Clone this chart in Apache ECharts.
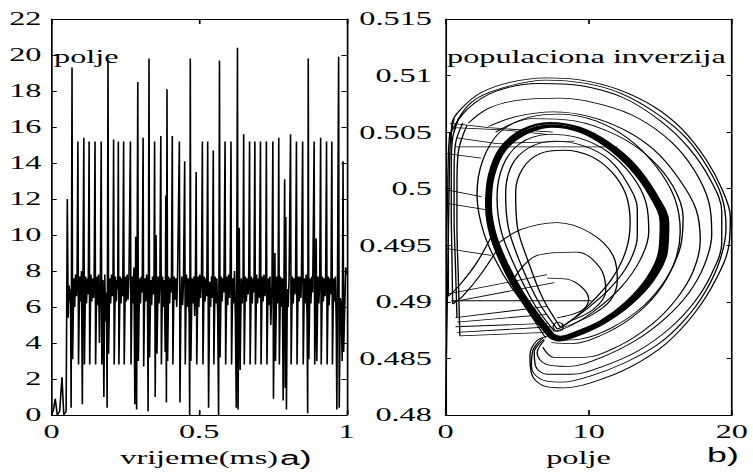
<!DOCTYPE html>
<html><head><meta charset="utf-8">
<script src="https://cdn.jsdelivr.net/npm/echarts@6/dist/echarts.min.js"></script>
<style>
html,body{margin:0;padding:0;background:#fff;overflow:hidden;width:753px;height:472px}
#chart{width:443px;height:472px;transform:scaleX(1.6998);transform-origin:0 0;}
</style></head><body><div id="chart"></div>
<script>
// ---------- panel a): field vs time ----------
const timeTicks = [0, 0.5, 1];
const fieldTicks = [0, 2, 4, 6, 8, 10, 12, 14, 16, 18, 20, 22];
const timeMs = [
0.000,0.006,0.012,0.019,0.027,0.035,0.041,0.049,0.053,0.056,0.059,0.062,0.064,0.066,0.069,0.071,0.075,0.078,0.081,0.084,
0.086,0.089,0.091,0.095,0.098,0.101,0.104,0.106,0.109,0.111,0.115,0.118,0.121,0.124,0.127,0.129,0.133,0.136,0.139,0.142,
0.144,0.147,0.149,0.153,0.156,0.159,0.162,0.165,0.168,0.170,0.174,0.177,0.180,0.183,0.186,0.188,0.191,0.193,0.197,0.200,
0.203,0.206,0.208,0.210,0.212,0.216,0.219,0.222,0.224,0.226,0.228,0.232,0.235,0.238,0.241,0.244,0.246,0.250,0.253,0.256,
0.259,0.262,0.267,0.269,0.273,0.276,0.279,0.282,0.285,0.288,0.292,0.294,0.298,0.301,0.304,0.307,0.310,0.312,0.316,0.319,
0.322,0.325,0.327,0.330,0.332,0.336,0.339,0.342,0.345,0.347,0.349,0.351,0.354,0.357,0.361,0.364,0.367,0.370,0.372,0.376,
0.379,0.382,0.385,0.387,0.389,0.391,0.393,0.397,0.400,0.403,0.406,0.409,0.411,0.415,0.418,0.421,0.424,0.427,0.433,0.435,
0.438,0.441,0.444,0.447,0.451,0.453,0.457,0.460,0.463,0.466,0.468,0.470,0.472,0.476,0.479,0.482,0.485,0.487,0.490,0.492,
0.496,0.499,0.502,0.505,0.508,0.511,0.513,0.517,0.520,0.523,0.526,0.529,0.532,0.536,0.539,0.542,0.545,0.548,0.550,0.554,
0.557,0.560,0.563,0.566,0.569,0.571,0.575,0.578,0.581,0.584,0.588,0.590,0.594,0.597,0.600,0.603,0.605,0.608,0.610,0.614,
0.617,0.620,0.623,0.626,0.630,0.632,0.636,0.639,0.643,0.646,0.649,0.651,0.653,0.657,0.660,0.663,0.666,0.668,0.671,0.673,
0.677,0.680,0.683,0.686,0.689,0.691,0.695,0.698,0.701,0.704,0.708,0.710,0.714,0.717,0.720,0.723,0.726,0.728,0.730,0.734,
0.737,0.740,0.743,0.747,0.750,0.752,0.755,0.757,0.759,0.763,0.766,0.768,0.770,0.772,0.776,0.779,0.782,0.785,0.790,0.792,
0.794,0.796,0.799,0.802,0.805,0.810,0.812,0.816,0.819,0.822,0.825,0.827,0.830,0.832,0.836,0.839,0.842,0.845,0.847,0.851,
0.853,0.857,0.860,0.863,0.866,0.868,0.870,0.872,0.876,0.879,0.882,0.885,0.890,0.892,0.895,0.897,0.899,0.903,0.906,0.909,
0.912,0.914,0.918,0.921,0.924,0.927,0.929,0.932,0.934,0.938,0.941,0.944,0.947,0.950,0.952,0.956,0.959,0.962,0.965,0.967,
0.973,0.975,0.979,0.982,0.985,0.988,0.990,0.994,0.997,1.000];
const field = [
0.0,0.3,0.9,0.0,0.2,2.1,0.0,0.2,12.0,5.4,7.2,6.3,7.0,0.4,19.3,3.1,7.6,6.0,7.8,6.6,
7.5,15.2,2.8,7.7,6.3,8.0,0.6,7.4,15.4,2.8,7.7,6.2,7.6,6.7,15.2,2.8,7.8,6.3,7.6,6.5,
7.4,15.2,2.8,7.7,6.1,7.8,4.0,7.3,15.2,2.8,7.5,1.0,7.8,5.2,6.8,0.4,19.7,3.4,7.6,6.2,
7.8,6.6,7.6,15.3,2.8,7.7,6.3,7.5,7.0,15.2,2.8,7.7,6.2,7.6,6.6,15.2,2.8,7.7,6.3,7.8,
6.4,7.6,15.2,2.8,7.7,6.2,8.2,0.6,9.9,0.3,18.5,3.0,7.6,6.2,7.7,6.8,15.4,2.7,7.6,6.3,
7.8,6.5,0.2,19.8,3.2,7.5,6.1,7.7,6.7,7.4,15.2,1.0,10.0,3.4,7.7,6.2,7.6,15.5,2.8,7.7,
6.0,7.5,3.5,12.2,0.7,18.1,3.0,7.7,6.2,7.6,6.8,15.5,2.8,7.7,6.4,7.6,6.0,7.9,15.2,0.7,
5.8,7.7,6.1,7.4,14.1,2.8,7.8,6.0,7.6,5.6,0.0,19.8,3.0,7.6,6.2,7.7,5.5,7.0,13.5,2.8,
7.7,6.0,7.8,6.5,7.6,15.2,2.8,7.7,6.3,7.6,6.6,15.2,0.4,7.4,6.0,7.7,6.5,14.7,2.8,7.7,
6.2,7.6,5.6,0.0,19.7,3.2,7.7,6.3,7.6,6.8,15.2,2.8,7.7,6.1,7.8,6.5,7.5,15.2,2.8,7.6,
6.2,8.0,5.3,0.4,20.4,0.3,10.4,2.5,7.6,6.2,7.5,15.6,2.8,7.7,6.3,7.6,6.7,7.4,15.2,2.8,
7.7,6.2,7.6,6.8,15.2,2.8,7.8,6.2,7.6,6.5,15.2,2.8,7.7,6.3,7.8,6.6,7.5,15.2,2.8,7.6,
6.1,7.7,5.0,7.3,15.2,0.9,6.0,9.0,3.0,7.7,6.2,7.5,15.4,2.8,7.7,6.0,7.6,0.8,13.1,1.5,
11.0,0.3,7.0,6.0,7.6,15.6,2.8,7.7,6.2,7.6,6.7,7.4,15.2,2.8,7.7,6.3,7.7,6.5,7.5,15.2,
2.8,7.6,6.2,7.8,5.5,0.1,19.8,3.1,7.6,6.2,7.7,6.8,15.2,2.8,5.8,9.8,3.0,7.7,6.2,7.6,
15.4,2.8,7.7,6.3,7.6,6.6,7.4,15.2,2.8,7.7,6.1,7.6,6.7,15.2,2.8,7.6,6.3,7.7,5.0,0.3,
19.9,0.4,6.5,6.0,3.0,14.1,3.5,6.2,8.2,7.8];

// ---------- panel b): phase portrait (polje, populaciona inverzija) ----------
const poljeTicks = [0, 10, 20];
const inversionTicks = [0.48, 0.485, 0.49, 0.495, 0.5, 0.505, 0.51, 0.515];
const outerRing1 = [[0.4,0.5040],[0.45,0.5058],[1.2,0.5072],[2.5,0.5085],[4.5,0.5094],[7,0.5098],[9.5,0.5096],[12,0.5088],[14.5,0.5073],[16.5,0.5053],[18.2,0.5026],[19.3,0.5000],[19.9,0.4975],[19.8,0.4950],[18.9,0.4920],[17.4,0.4890],[15.4,0.4863],[13,0.4843],[10.5,0.4830],[8.3,0.4824],[6.8,0.4826],[6.0,0.4837],[5.9,0.4853],[6.4,0.4866],[7.2,0.4870]];
const outerRing2 = [[0.6,0.5050],[1.0,0.5064],[2.2,0.5080],[4.5,0.5091],[7,0.5096],[9.8,0.5093],[12.3,0.5084],[14.8,0.5066],[16.8,0.5045],[18.3,0.5019],[19.3,0.4993],[19.6,0.4966],[19.2,0.4938],[18.2,0.4910],[16.7,0.4884],[14.8,0.4862],[12.5,0.4846],[10,0.4834],[8,0.4829],[6.6,0.4832],[6.0,0.4843],[6.1,0.4857],[6.8,0.4868]];
const outerRing3 = [[0.3,0.5048],[1.5,0.5070],[3.5,0.5086],[6.5,0.5093],[9.5,0.5091],[12.5,0.5080],[15,0.5060],[17,0.5036],[18.5,0.5008],[19.3,0.4980],[19.3,0.4952],[18.6,0.4925],[17.4,0.4900],[15.7,0.4877],[13.5,0.4857],[11,0.4843],[8.8,0.4836],[7.1,0.4836],[6.3,0.4843],[6.2,0.4856],[6.9,0.4867]];
const outerRing4 = [[1.6,0.5058],[3.0,0.5071],[5,0.5078],[8,0.5080],[11,0.5074],[13.5,0.5062],[15.8,0.5041],[17.4,0.5016],[18.4,0.4988],[18.6,0.4960],[18.1,0.4933],[17.0,0.4908],[15.4,0.4886],[13.3,0.4866],[10.9,0.4851],[8.6,0.4843],[7.0,0.4845],[6.4,0.4855],[6.9,0.4866]];
const outerRing5 = [[3.0,0.5055],[5,0.5064],[7.5,0.5068],[10,0.5064],[12.5,0.5052],[14.6,0.5034],[16.3,0.5009],[17.5,0.4982],[17.8,0.4954],[17.3,0.4927],[16.1,0.4902],[14.4,0.4880],[12.1,0.4861],[9.6,0.4851],[7.6,0.4851],[6.8,0.4860]];
const outerRing6 = [[3.5,0.5050],[6,0.5062],[9,0.5060],[12,0.5047],[14.3,0.5027],[15.9,0.5002],[16.6,0.4975],[16.4,0.4948],[15.4,0.4920],[13.8,0.4896],[11.6,0.4877],[9.4,0.4867],[7.8,0.4866]];
const bandLoopA = [[7.3,0.4869],[6.3,0.4885],[5.1,0.4907],[4.0,0.4933],[3.2,0.4959],[2.9,0.4985],[3.1,0.5012],[3.9,0.5036],[5.4,0.5052],[7.3,0.5058],[9.3,0.5054],[11.3,0.5041],[13.1,0.5022],[14.6,0.4996],[15.5,0.4970],[15.4,0.4944],[14.5,0.4920],[12.9,0.4898],[11.0,0.4881],[9.1,0.4870],[7.9,0.4866],[7.3,0.4869]];
const bandLoopB = [[7.5,0.4871],[6.5,0.4887],[5.3,0.4909],[4.2,0.4935],[3.4,0.4961],[3.1,0.4986],[3.3,0.5011],[4.1,0.5034],[5.6,0.5049],[7.4,0.5055],[9.3,0.5051],[11.2,0.5038],[12.9,0.5019],[14.3,0.4995],[15.1,0.4970],[15.0,0.4945],[14.2,0.4922],[12.7,0.4900],[10.9,0.4883],[9.1,0.4873],[8.0,0.4869],[7.5,0.4871]];
const bandLoopC = [[7.4,0.4870],[6.4,0.4886],[5.2,0.4908],[4.1,0.4934],[3.3,0.4960],[3.0,0.4985],[3.2,0.5012],[4.0,0.5035],[5.5,0.5050],[7.35,0.5056],[9.3,0.5052],[11.25,0.5040],[13.0,0.5020],[14.45,0.4995],[15.3,0.4970],[15.2,0.4944],[14.35,0.4921],[12.8,0.4899],[10.95,0.4882],[9.1,0.4871],[7.95,0.4867],[7.4,0.4870]];
const innerLoop1 = [[7.6,0.4874],[6.2,0.4898],[4.9,0.4930],[3.9,0.4962],[3.6,0.4992],[4.0,0.5020],[5.2,0.5040],[7.2,0.5048],[9.3,0.5045],[11.3,0.5033],[13.0,0.5012],[14.0,0.4988],[14.2,0.4962],[13.6,0.4937],[12.2,0.4912],[10.3,0.4891],[8.6,0.4878],[7.6,0.4874]];
const innerLoop2 = [[7.8,0.4876],[6.5,0.4900],[5.3,0.4932],[4.4,0.4965],[4.2,0.4995],[4.6,0.5020],[5.8,0.5036],[7.6,0.5042],[9.6,0.5038],[11.4,0.5026],[12.7,0.5005],[13.4,0.4982],[13.4,0.4958],[12.8,0.4934],[11.5,0.4912],[9.8,0.4893],[8.4,0.4880],[7.8,0.4876]];
const innerLoop3 = [[8.0,0.4878],[6.8,0.4903],[5.8,0.4935],[5.0,0.4968],[4.9,0.4997],[5.4,0.5018],[6.6,0.5031],[8.3,0.5034],[10.1,0.5029],[11.6,0.5015],[12.6,0.4995],[12.9,0.4970],[12.6,0.4945],[11.6,0.4920],[10.0,0.4897],[8.6,0.4882],[8.0,0.4878]];
const outsideLoop = [[7.0,0.4868],[5.6,0.4895],[4.0,0.4925],[2.7,0.4960],[2.2,0.4995],[2.6,0.5025],[3.8,0.5050],[5.8,0.5063],[8.0,0.5066],[10.5,0.5060],[12.8,0.5044],[14.7,0.5020],[16.0,0.4992],[16.4,0.4962],[16.0,0.4935],[14.8,0.4908],[13.0,0.4886],[10.8,0.4870],[8.8,0.4863],[7.4,0.4864]];
const smallLoop1 = [[3.5,0.4950],[5.3,0.4964],[7.8,0.4970],[10.1,0.4961],[11.7,0.4941],[12.0,0.4918],[11.5,0.4901],[10.3,0.4889],[8.8,0.4880],[7.8,0.4876]];
const smallLoop2 = [[7.1,0.4921],[8.5,0.4920],[9.6,0.4912],[10.0,0.4902],[9.6,0.4893],[8.6,0.4888],[7.8,0.4886]];
const smallLoop3 = [[4.5,0.4915],[6.4,0.4941],[9.2,0.4944],[10.8,0.4930],[11.2,0.4910],[10.3,0.4893],[8.5,0.4882]];
const tinyLoop = [[7.5,0.4878],[7.8,0.4882],[8.2,0.4880],[8.2,0.4876],[7.8,0.4874],[7.5,0.4878]];
const leftEdge1 = [[0.0,0.4800],[0.05,0.4840],[0.1,0.4880],[0.15,0.4920],[0.2,0.4960],[0.25,0.5000],[0.3,0.5030],[0.4,0.5050],[0.6,0.5062]];
const leftEdge2 = [[0.5,0.4898],[0.45,0.4940],[0.4,0.4980],[0.4,0.5020],[0.5,0.5045],[0.9,0.5062]];
const leftEdge3 = [[0.8,0.4886],[0.7,0.4930],[0.6,0.4975],[0.6,0.5015],[0.7,0.5040],[1.2,0.5058]];
const leftEdge4 = [[1.0,0.4870],[0.9,0.4920],[0.8,0.4965],[0.8,0.5005],[0.9,0.5033],[1.5,0.5056]];
const leftEdge5 = [[0.2,0.4905],[0.2,0.4950],[0.15,0.4990],[0.2,0.5030],[0.3,0.5050]];
const topLine1 = [[0.5,0.5054],[4,0.5052],[7.1,0.5048]];
const topLine2 = [[0.7,0.5037],[12.0,0.5037]];
const topLine3 = [[0.3,0.5058],[3.0,0.5054],[7.5,0.5050]];
const topLine4 = [[0.8,0.5045],[3.5,0.5040],[9.0,0.5042]];
const midLine1 = [[0.1,0.5031],[2.5,0.5027]];
const midLine2 = [[0.1,0.4999],[2.5,0.4993]];
const midLine3 = [[0.1,0.4987],[3.0,0.4981]];
const midLine4 = [[0.1,0.4947],[3.2,0.4941]];
const lowLine = [[0.4,0.4901],[10.2,0.4901]];
const fanLine1 = [[7.1,0.4924],[0.2,0.4907]];
const fanLine2 = [[7.6,0.4917],[0.5,0.4900]];
const fanLine3 = [[7.1,0.4896],[0.7,0.4886]];
const fanLine4 = [[7.1,0.4889],[0.8,0.4882]];
const fanLine5 = [[7.1,0.4881],[0.7,0.4878]];
const fanLine6 = [[7.4,0.4878],[0.8,0.4873]];
const fanLine7 = [[7.1,0.4873],[1.0,0.4870]];
const dropLine1 = [[3.3,0.4960],[2.2,0.4935],[1.0,0.4915],[0.2,0.4905]];
const dropLine2 = [[3.8,0.4950],[2.5,0.4925],[1.2,0.4905],[0.5,0.4898]];

const smoothCurves = [outerRing1, outerRing2, outerRing3, outerRing4, outerRing5, outerRing6,
  innerLoop1, innerLoop2, innerLoop3, outsideLoop, smallLoop1, smallLoop2, smallLoop3, tinyLoop,
  leftEdge1, leftEdge2, leftEdge3, leftEdge4, leftEdge5, dropLine1, dropLine2];
const straightCurves = [topLine1, topLine2, topLine3, topLine4, midLine1, midLine2, midLine3, midLine4,
  lowLine, fanLine1, fanLine2, fanLine3, fanLine4, fanLine5, fanLine6, fanLine7];
const bandCurves = [bandLoopA, bandLoopB, bandLoopC];

const SERIF = 'Liberation Serif, Times New Roman, serif';
const SANS = 'Liberation Sans, Arial, sans-serif';

function xAx(grid, ticks, pos, labels, name, namePad) {
  return {
    type: 'value', gridIndex: grid, position: pos,
    min: ticks[0], max: ticks[ticks.length - 1], interval: ticks[1] - ticks[0],
    splitLine: { show: false },
    axisLine: { show: true, onZero: false, lineStyle: { color: '#000', width: 1 } },
    axisTick: { show: true, inside: true, length: 5, lineStyle: { color: '#000', width: 1 } },
    axisLabel: { show: labels, color: '#000', fontFamily: SERIF, fontSize: 19, margin: 7,
      formatter: v => String(parseFloat(v.toFixed(3))) },
    name: name || '', nameLocation: 'middle', nameGap: 33,
    nameTextStyle: { color: '#000', fontFamily: SERIF, fontSize: 19, padding: namePad || 0 }
  };
}
function yAx(grid, ticks, pos, labels, margin) {
  return {
    type: 'value', gridIndex: grid, position: pos,
    min: ticks[0], max: ticks[ticks.length - 1], interval: +(ticks[1] - ticks[0]).toFixed(4),
    splitLine: { show: false },
    axisLine: { show: true, onZero: false, lineStyle: { color: '#000', width: 1 } },
    axisTick: { show: true, inside: true, length: 3, lineStyle: { color: '#000', width: 1 } },
    axisLabel: { show: labels, color: '#000', fontFamily: SERIF, fontSize: 19, margin: margin || 6,
      formatter: v => String(parseFloat(v.toFixed(3))) }
  };
}

const series = [];
series.push({
  type: 'line', xAxisIndex: 0, yAxisIndex: 0, showSymbol: false, symbol: 'none',
  data: timeMs.map((t, i) => [t, field[i]]),
  lineStyle: { color: '#000', width: 0.95 }, silent: true
});
smoothCurves.forEach(c => series.push({
  type: 'line', xAxisIndex: 2, yAxisIndex: 2, symbol: 'none', smooth: 0.35, data: c,
  lineStyle: { color: '#000', width: 0.8 }, silent: true
}));
straightCurves.forEach(c => series.push({
  type: 'line', xAxisIndex: 2, yAxisIndex: 2, symbol: 'none', data: c,
  lineStyle: { color: '#000', width: 0.8 }, silent: true
}));
bandCurves.forEach(c => series.push({
  type: 'line', xAxisIndex: 2, yAxisIndex: 2, symbol: 'none', smooth: 0.35, data: c,
  lineStyle: { color: '#000', width: 2.4 }, silent: true
}));

const chart = echarts.init(document.getElementById('chart'), null, { renderer: 'svg' });
chart.setOption({
  animation: false,
  backgroundColor: '#fff',
  grid: [
    { left: 30.4, top: 19, width: 173.5, height: 404 },
    { left: 262.1, top: 19, width: 172.1, height: 404 }
  ],
  xAxis: [
    xAx(0, timeTicks, 'bottom', true, 'vrijeme(ms)'),
    xAx(0, timeTicks, 'top', false),
    xAx(1, poljeTicks, 'bottom', true, 'polje', [0, 12, 0, 0]),
    xAx(1, poljeTicks, 'top', false)
  ],
  yAxis: [
    yAx(0, fieldTicks, 'left', true, 6),
    yAx(0, fieldTicks, 'right', false),
    yAx(1, inversionTicks, 'left', true, 8),
    yAx(1, inversionTicks, 'right', false)
  ],
  graphic: [
    { type: 'text', left: 31.8, top: 47, style: { text: 'polje', fontSize: 19, fontFamily: SERIF, fill: '#000' } },
    { type: 'text', left: 263, top: 47, style: { text: 'populaciona inverzija', fontSize: 19, fontFamily: SERIF, fill: '#000' } },
    { type: 'text', left: 164.7, top: 447, style: { text: 'a)', fontSize: 21, fontFamily: SANS, fill: '#000' } },
    { type: 'text', left: 416, top: 444, style: { text: 'b)', fontSize: 21, fontFamily: SANS, fill: '#000' } }
  ],
  series: series
});
</script></body></html>
